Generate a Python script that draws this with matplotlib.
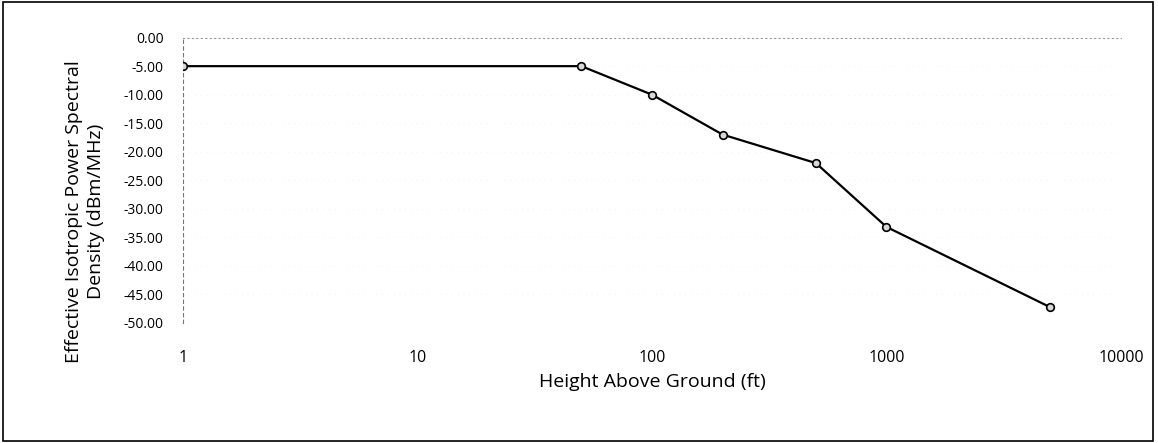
import matplotlib.pyplot as plt
from matplotlib.patches import Rectangle

height_ft = [1, 50, 100, 200, 500, 1000, 5000]
eipsd = [-5, -5, -10, -17, -22, -33.2, -47.3]
y_ticks = [0, -5, -10, -15, -20, -25, -30, -35, -40, -45, -50]
x_ticks = [1, 10, 100, 1000, 10000]

plt.rcParams['font.family'] = ['Open Sans', 'DejaVu Sans']

fig = plt.figure(figsize=(11.58, 4.43), dpi=100)
ax = fig.add_axes([0.158, 0.2716, 0.968 - 0.158, 0.915 - 0.2716])

ax.plot(height_ft, eipsd, color="black", linewidth=1.6, marker='o', markersize=5.5,
        markerfacecolor="#d8d8d8", markeredgecolor="black", markeredgewidth=1.2, zorder=3)

ax.set_xscale('log')
ax.set_xlim(1, 10000)
ax.set_ylim(-50, 0)
ax.set_xticks(x_ticks)
ax.set_xticklabels([str(x) for x in x_ticks])
ax.set_yticks(y_ticks)
ax.set_yticklabels(["{:.2f}".format(v) for v in y_ticks])
ax.minorticks_off()
ax.tick_params(axis='both', length=0)
ax.tick_params(axis='x', pad=20, labelsize=11.5)
ax.tick_params(axis='y', pad=14, labelsize=10)

for s in ['right', 'bottom']:
    ax.spines[s].set_visible(False)
ax.spines['top'].set_linestyle((0, (1, 3)))
ax.spines['top'].set_color('#999999')
ax.spines['top'].set_linewidth(0.8)
ax.spines['left'].set_linestyle((0, (3, 3)))
ax.spines['left'].set_color('#777777')
ax.spines['left'].set_linewidth(0.8)

ax.grid(axis='y', color='#eeeeee', linestyle=(0, (1, 6)), linewidth=0.6)

ax.set_xlabel("Height Above Ground (ft)", fontsize=14, labelpad=5)
ax.set_ylabel("Effective Isotropic Power Spectral\nDensity (dBm/MHz)", fontsize=14,
              linespacing=1.3)
ax.yaxis.set_label_coords(-0.083, 0.39)

fig.patches.append(Rectangle((0.003, 0.005), 0.993, 0.99, transform=fig.transFigure,
                             fill=False, edgecolor="black", linewidth=1.2))

fig.savefig("out.png", dpi=100)
